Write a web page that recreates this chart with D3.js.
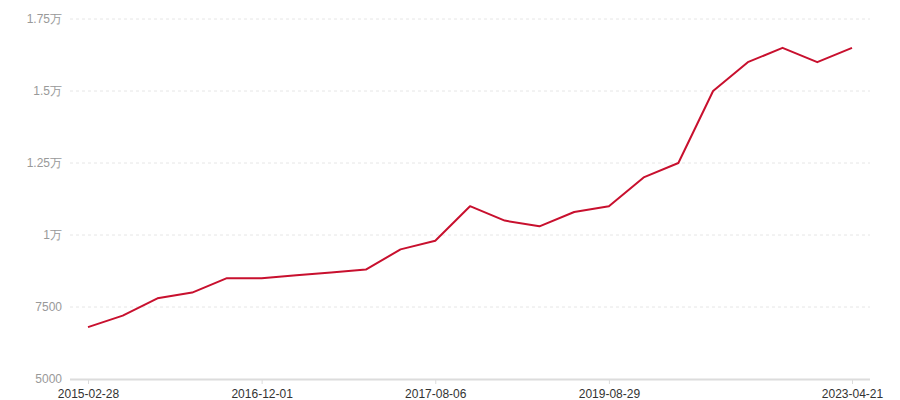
<!DOCTYPE html>
<html>
<head>
<meta charset="utf-8">
<script src="https://cdn.jsdelivr.net/npm/d3@7"></script>
<style>
  body { margin: 0; background: #fff; }
  svg { display: block; font-family: "Microsoft YaHei", "Noto Sans CJK SC", sans-serif; }
</style>
</head>
<body>
<div id="chart"></div>
<script>
// dates along the x axis (only some are labelled)
const dates = [
  "2015-02-28", "2015-06-12", "2015-09-30", "2016-01-15", "2016-06-20",
  "2016-12-01", "2017-01-10", "2017-03-15", "2017-05-02", "2017-06-20",
  "2017-08-06", "2017-12-01", "2018-04-10", "2018-09-05", "2019-02-18",
  "2019-08-29", "2020-03-10", "2020-09-15", "2021-04-20", "2021-10-08",
  "2022-04-15", "2022-10-20", "2023-04-21"
];
const values = [
  6800, 7200, 7800, 8000, 8500,
  8500, 8600, 8700, 8800, 9500,
  9800, 11000, 10500, 10300, 10800,
  11000, 12000, 12500, 15000, 16000,
  16500, 16000, 16500
];
const tickLabels = ["2015-02-28", "2016-12-01", "2017-08-06", "2019-08-29", "2023-04-21"];
const yTicks = [5000, 7500, 10000, 12500, 15000, 17500];

const width = 900, height = 400;
const plotL = 70, plotR = 870, plotT = 19, plotB = 379;

const svg = d3.select("#chart").append("svg")
  .attr("width", width)
  .attr("height", height);

const x = d3.scalePoint()
  .domain(dates)
  .range([plotL + 18, plotR - 18]);

const y = d3.scaleLinear()
  .domain([5000, 17500])
  .range([plotB, plotT]);

const fmt = v => v >= 10000 ? (v / 10000) + "万" : String(v);

// grid lines
svg.append("g")
  .selectAll("line")
  .data(yTicks.slice(1))
  .join("line")
  .attr("x1", plotL).attr("x2", plotR)
  .attr("y1", d => y(d)).attr("y2", d => y(d))
  .attr("stroke", "#e6e6e6")
  .attr("stroke-dasharray", "3,3");

// y axis labels
const yAxis = svg.append("g")
  .attr("transform", `translate(${plotL},0)`)
  .call(d3.axisLeft(y).tickValues(yTicks).tickFormat(fmt).tickSize(0).tickPadding(8));
yAxis.select(".domain").remove();
yAxis.selectAll("text")
  .attr("fill", "#999")
  .style("font-size", "12px");

// x axis
const xAxis = svg.append("g")
  .attr("transform", `translate(0,${plotB})`)
  .call(d3.axisBottom(x).tickValues(tickLabels).tickSize(5).tickPadding(5).tickSizeOuter(0));
xAxis.select(".domain")
  .attr("d", `M${plotL},0.5H${plotR}`)
  .attr("stroke", "#dcdcdc")
  .attr("stroke-width", 2);
xAxis.selectAll(".tick line").attr("stroke", "#dcdcdc");
xAxis.selectAll("text")
  .attr("fill", "#333")
  .style("font-size", "12px");

// line
const line = d3.line()
  .x((d, i) => x(dates[i]))
  .y(d => y(d));

svg.append("path")
  .datum(values)
  .attr("fill", "none")
  .attr("stroke", "#c8102e")
  .attr("stroke-width", 2)
  .attr("stroke-linejoin", "round")
  .attr("d", line);
</script>
</body>
</html>
